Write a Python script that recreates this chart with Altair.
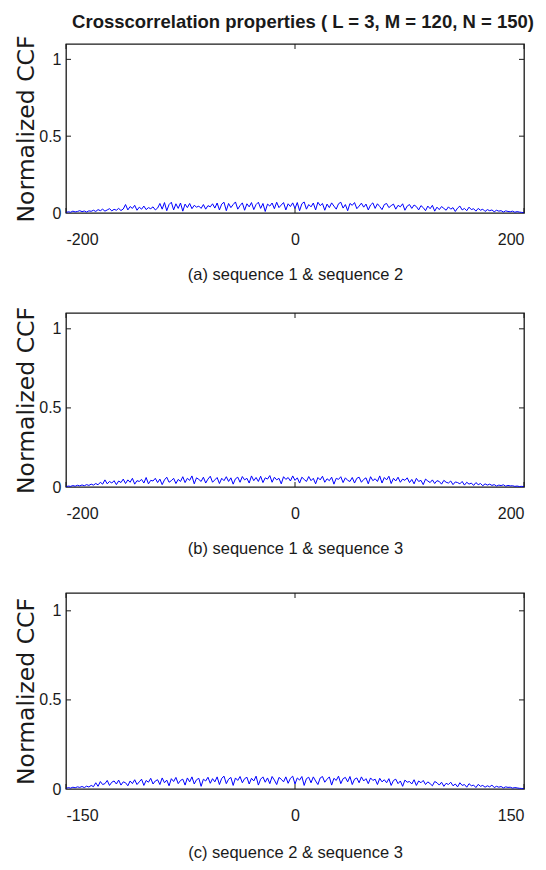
import altair as alt
import numpy as np
import pandas as pd

# Normalized CCF values (in thousandths)
seq12 = [3, 8, 5, 12, 7, 10, 15, 9, 13, 6, 14, 11,
         18, 10, 22, 15, 25, 12, 20, 28, 14, 24, 18, 30, 16, 26,
         55, 20, 42, 30, 50, 18, 38, 25, 45, 22, 35, 28, 40, 20, 32,
         62, 25, 68, 15, 55, 70, 20, 60, 30, 65, 12, 58,
         35, 62, 28, 50, 38, 45, 30, 55, 25, 48, 40, 60, 32,
         65, 20, 58, 70, 15, 62, 35, 55, 72, 25, 48, 66, 18, 60, 40, 68, 22, 55, 70, 30, 62, 10, 58, 45, 65, 28, 70, 35, 52, 68, 20, 60, 42, 66,
         30, 68, 15, 60, 72, 25, 55, 40, 65, 20, 70, 48, 62, 18, 58, 35, 66, 45, 25, 60, 70, 32, 55, 15, 62, 50, 68, 28, 45, 64, 38, 58, 20, 52, 66, 30, 60, 42, 22, 55, 62, 35, 48, 58, 25, 50, 40, 60, 18, 45, 55, 30, 52, 42, 20, 48,
         35, 15, 45, 28, 50, 12, 38, 22, 42, 30, 18, 40, 25, 35, 10, 32, 45, 20, 30, 15, 38, 22, 28, 12, 30,
         18, 25, 10, 22, 15, 20, 8, 18, 12, 15, 6, 14, 10, 8, 12, 5, 9, 6, 4, 2]

seq13 = [2, 6, 4, 9, 5, 11, 7, 13, 8, 15, 10, 18, 12,
         22, 14, 30, 18, 45, 20, 35, 25, 40, 15, 38, 28, 50,
         22, 45, 30, 55, 18, 40, 35, 48, 25, 60, 20, 42, 38, 55, 28, 50, 15, 45, 62, 30, 40, 55, 22, 48, 35,
         65, 28, 55, 42, 70, 20, 58, 48, 35, 62, 25, 50, 68, 30, 45, 60, 22, 55, 40, 65, 35, 58, 18, 52, 62,
         30, 66, 45, 55, 25, 70, 40, 60, 35, 68, 28, 58, 50, 72, 30, 62, 45, 55, 20, 65, 48, 60, 38, 70, 42,
         58, 25, 62, 48, 35, 66, 40, 55, 20, 60, 45, 68, 30, 52, 40, 62, 18, 55, 48, 65, 28, 58, 42, 35, 60,
         25, 55, 62, 30, 48, 58, 20, 65, 40, 52, 35, 70, 25, 60, 45, 68, 22, 55, 38, 62, 30, 50, 42, 58, 28,
         48, 20, 55, 35, 42, 15, 50, 38, 28, 45, 22, 40, 35, 18, 42, 30, 25, 38, 15, 32, 28, 20, 35, 12, 30,
         18, 25, 10, 28, 15, 22, 8, 20, 12, 18, 10, 15, 6, 12, 9, 14, 5, 10, 7, 8, 4, 6, 3, 4, 2]

seq23 = [3, 8, 5, 10, 7, 12, 9, 14, 8, 16, 11, 20, 13,
         35, 15, 42, 25, 30, 48, 20, 38, 45, 28, 50, 22, 40, 35, 18, 45, 30, 52, 25, 40,
         55, 20, 48, 38, 60, 28, 45, 52, 25, 62, 35, 50, 18, 58, 42, 65, 30, 48, 55, 22, 62, 40, 68, 28, 52, 60, 15, 55, 45, 66, 32, 58, 40,
         68, 25, 60, 72, 30, 55, 65, 20, 62, 48, 70, 35, 58, 66, 28, 60, 45, 72, 22, 55, 68, 38, 62, 30, 70, 50, 25, 65, 55, 40, 68, 32, 60,
         72, 28, 62, 50, 70, 20, 58, 66, 35, 68, 45, 25, 62, 70, 38, 55, 68, 22, 60, 48, 72, 30, 58, 65, 40, 70, 25, 55, 62, 35, 68, 45, 58,
         30, 62, 48, 55, 25, 60, 40, 52, 35, 58, 20, 48, 55, 30, 45, 15, 50, 38, 42, 28, 52, 20, 45, 35, 48, 25, 40, 30, 18, 42, 35, 22, 38,
         15, 32, 25, 38, 18, 28, 12, 35, 20, 25, 10, 30, 18, 22, 8, 26, 15, 20, 10, 18, 12, 22, 8, 15, 10, 14, 6, 12, 9, 10, 5, 8, 6, 4, 3, 2]

x_ticks_ab = [-200, 0, 200]
x_ticks_c = [-150, 0, 150]
y_ticks = [0, 0.5, 1]
y_inner_ticks = [0.5, 1]
panel_labels = ["(a) sequence 1 & sequence 2",
                "(b) sequence 1 & sequence 3",
                "(c) sequence 2 & sequence 3"]
main_title = "Crosscorrelation properties ( L = 3, M = 120, N = 150)"
y_title = "Normalized CCF"

FONT = "Liberation Sans"
INK = "#1a1a1a"
W = 458
TICK = 5


def panel(vals, xmax, xticks, h, label, title_pad, title=None):
    df = pd.DataFrame({"lag": np.linspace(-xmax, xmax, len(vals)),
                       "ccf": np.array(vals) / 1000.0})
    xs = alt.Scale(domain=[-xmax, xmax], nice=False, zero=False)
    ys = alt.Scale(domain=[0, 1.1], nice=False, zero=False)
    line = alt.Chart(df).mark_line(color="#0000ff", strokeWidth=1).encode(
        x=alt.X("lag:Q", scale=xs, axis=alt.Axis(
            values=xticks, title=label, ticks=False, domain=False, grid=False,
            labelExpr="datum.value < 0 ? '-' + abs(datum.value) : '' + datum.value",
            labelFont=FONT, labelFontSize=16, labelPadding=18, labelColor=INK,
            titleFont=FONT, titleFontSize=16.5, titleFontWeight="normal",
            titlePadding=title_pad, titleColor=INK)),
        y=alt.Y("ccf:Q", scale=ys, axis=alt.Axis(
            values=y_ticks, title=y_title, ticks=False, domain=False, grid=False,
            labelExpr="'' + datum.value",
            labelFont=FONT, labelFontSize=16, labelPadding=5, labelColor=INK,
            titleFont="DejaVu Sans", titleFontSize=23.5, titleFontWeight="normal",
            titlePadding=0.5, titleColor=INK)),
    )
    xt = pd.DataFrame({"lag": xticks})
    yt = pd.DataFrame({"ccf": y_inner_ticks})
    xb = alt.Chart(xt).mark_rule(color=INK, strokeWidth=1).encode(
        x=alt.X("lag:Q", scale=xs), y=alt.value(h), y2=alt.value(h - TICK))
    xtop = alt.Chart(xt).mark_rule(color=INK, strokeWidth=1).encode(
        x=alt.X("lag:Q", scale=xs), y=alt.value(0), y2=alt.value(TICK))
    yl = alt.Chart(yt).mark_rule(color=INK, strokeWidth=1).encode(
        y=alt.Y("ccf:Q", scale=ys), x=alt.value(0), x2=alt.value(TICK))
    yr = alt.Chart(yt).mark_rule(color=INK, strokeWidth=1).encode(
        y=alt.Y("ccf:Q", scale=ys), x=alt.value(W), x2=alt.value(W - TICK))
    layers = [line, xb, xtop, yl, yr]
    if title:
        t = alt.Chart(pd.DataFrame({"t": [title]})).mark_text(
            font=FONT, fontSize=18.5, fontWeight="bold", baseline="middle",
            align="center", color=INK).encode(
            text="t:N", x=alt.value(W / 2 + 8), y=alt.value(-22))
        layers.append(t)
    return alt.layer(*layers).properties(width=W, height=h)


a = panel(seq12, 200, x_ticks_ab, 169, panel_labels[0], 19, main_title)
b = panel(seq13, 200, x_ticks_ab, 174, panel_labels[1], 19)
c = panel(seq23, 150, x_ticks_c, 196, panel_labels[2], 21)

inner = alt.vconcat(a, b, spacing=21)
chart = alt.vconcat(inner, c, spacing=33).configure_view(
    stroke=INK, strokeWidth=1.3
).properties(padding={"left": 5, "top": 4, "right": 0, "bottom": 0},
             background="white")

chart.save("out.html", embed_options={"renderer": "svg", "actions": False})
